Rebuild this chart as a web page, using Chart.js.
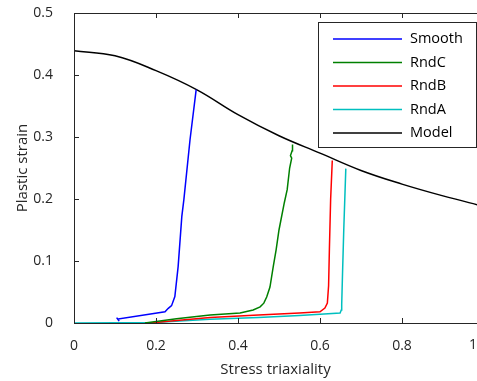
<!DOCTYPE html>
<html>
<head>
<meta charset="utf-8">
<script src="https://cdn.jsdelivr.net/npm/chart.js@4.4.1/dist/chart.umd.min.js"></script>
<style>
html, body { margin: 0; padding: 0; background: #fff; overflow: hidden; }
</style>
</head>
<body>
<canvas id="chart" width="477" height="381"></canvas>
<script>
// data
const smoothX = [0.104, 0.110, 0.107, 0.222, 0.230, 0.238, 0.246, 0.254, 0.263, 0.268, 0.283, 0.298];
const smoothY = [0.0086, 0.003, 0.0065, 0.018, 0.0237, 0.028, 0.0426, 0.091, 0.172, 0.199, 0.2956, 0.3764];

const rndCX = [0.173, 0.25, 0.332, 0.405, 0.437, 0.454, 0.463, 0.470, 0.478, 0.486, 0.493, 0.5, 0.513, 0.52, 0.526, 0.531, 0.528, 0.532, 0.533];
const rndCY = [0, 0.007, 0.013, 0.016, 0.021, 0.026, 0.032, 0.042, 0.058, 0.091, 0.118, 0.15, 0.194, 0.215, 0.25, 0.266, 0.270, 0.278, 0.288];

const rndBX = [0.185, 0.25, 0.332, 0.45, 0.55, 0.6, 0.612, 0.618, 0.621, 0.623, 0.626, 0.63];
const rndBY = [0, 0.004, 0.009, 0.013, 0.016, 0.018, 0.024, 0.032, 0.06, 0.12, 0.2, 0.262];

const rndAX = [0, 0.2, 0.332, 0.45, 0.55, 0.6, 0.649, 0.652, 0.653, 0.655, 0.658, 0.663];
const rndAY = [0, 0.001, 0.006, 0.009, 0.012, 0.014, 0.016, 0.021, 0.03, 0.08, 0.15, 0.249];

const modelX = [0, 0.1, 0.2, 0.3, 0.4, 0.5, 0.6, 0.7, 0.8, 0.9, 1.0];
const modelY = [0.439, 0.431, 0.407, 0.376, 0.336, 0.302, 0.274, 0.246, 0.224, 0.205, 0.188];

const xTickValues = [0, 0.2, 0.4, 0.6, 0.8, 1];
const yTickValues = [0, 0.1, 0.2, 0.3, 0.4, 0.5];

const fontFam = "'Open Sans', sans-serif";
const ink = "#262626";

function pts(xs, ys) {
    return xs.map((x, i) => ({ x, y: ys[i] }));
}

// box, inward ticks and legend drawn like the original plot
const frame = {
    id: "frame",
    afterDatasetsDraw(chart) {
        const { ctx, chartArea: a, scales } = chart;
        ctx.save();
        ctx.strokeStyle = ink;
        ctx.lineWidth = 1;
        ctx.beginPath();
        ctx.moveTo(a.left + 0.5, a.bottom + 0.5);
        ctx.lineTo(a.left + 0.5, a.top + 0.5);
        ctx.lineTo(a.right + 2, a.top + 0.5);
        ctx.moveTo(a.left + 0.5, a.bottom + 0.5);
        ctx.lineTo(a.right + 2, a.bottom + 0.5);
        scales.x.ticks.forEach(t => {
            const px = Math.round(scales.x.getPixelForValue(t.value)) + 0.5;
            ctx.moveTo(px, a.bottom);
            ctx.lineTo(px, a.bottom - 5);
            ctx.moveTo(px, a.top);
            ctx.lineTo(px, a.top + 5);
        });
        scales.y.ticks.forEach(t => {
            const py = Math.round(scales.y.getPixelForValue(t.value)) + 0.5;
            ctx.moveTo(a.left, py);
            ctx.lineTo(a.left + 5, py);
        });
        ctx.stroke();

        // last x label sits at the cut edge
        ctx.fillStyle = ink;
        ctx.font = "14px " + fontFam;
        ctx.textAlign = "center";
        ctx.textBaseline = "middle";
        ctx.fillText(String(xTickValues[xTickValues.length - 1]), a.right - 4, a.bottom + 22);

        // legend
        const bx = a.right - 159, by = a.top + 9, bw = 158, bh = 125;
        ctx.fillStyle = "#fff";
        ctx.fillRect(bx, by, bw, bh);
        ctx.strokeStyle = ink;
        ctx.lineWidth = 1;
        ctx.strokeRect(bx + 0.5, by + 0.5, bw, bh);
        ctx.font = "14.5px " + fontFam;
        ctx.textAlign = "left";
        chart.data.datasets.forEach((ds, i) => {
            const ly = by + 17 + i * 23.5;
            ctx.strokeStyle = ds.borderColor;
            ctx.lineWidth = 1.5;
            ctx.beginPath();
            ctx.moveTo(bx + 15, ly);
            ctx.lineTo(bx + 84, ly);
            ctx.stroke();
            ctx.fillStyle = "#000";
            ctx.fillText(ds.label, bx + 92, ly);
        });
        ctx.restore();
    }
};

const lineSet = (label, color, data, extra) => Object.assign({
    label,
    data,
    borderColor: color,
    backgroundColor: color,
    borderWidth: 1.5,
    pointRadius: 0,
    fill: false,
    tension: 0
}, extra || {});

new Chart(document.getElementById("chart"), {
    type: "line",
    data: {
        datasets: [
            lineSet("Smooth", "#0000ff", pts(smoothX, smoothY)),
            lineSet("RndC", "#008000", pts(rndCX, rndCY)),
            lineSet("RndB", "#ff0000", pts(rndBX, rndBY)),
            lineSet("RndA", "#00bfbf", pts(rndAX, rndAY)),
            lineSet("Model", "#000000", pts(modelX, modelY), { tension: 0.4 })
        ]
    },
    options: {
        responsive: false,
        animation: false,
        layout: { padding: { left: 0, right: 0, top: 13, bottom: 0 } },
        plugins: {
            legend: { display: false },
            tooltip: { enabled: false }
        },
        scales: {
            x: {
                type: "linear",
                min: 0,
                max: 0.983,
                grid: { display: false },
                border: { display: false },
                afterBuildTicks: s => { s.ticks = xTickValues.filter(v => v <= s.max).map(v => ({ value: v })); },
                afterFit: s => { s.height = 58; s.paddingLeft = 0; s.paddingRight = 0; },
                ticks: {
                    color: ink,
                    font: { family: fontFam, size: 14 },
                    padding: 7,
                    maxRotation: 0,
                    callback: v => String(v)
                },
                title: {
                    display: true,
                    text: "Stress triaxiality",
                    color: ink,
                    font: { family: fontFam, size: 15 },
                    padding: { top: 0, bottom: 2 }
                }
            },
            y: {
                type: "linear",
                min: 0,
                max: 0.5,
                grid: { display: false },
                border: { display: false },
                afterBuildTicks: s => { s.ticks = yTickValues.map(v => ({ value: v })); },
                afterFit: s => { s.width = 74; s.paddingTop = 0; s.paddingBottom = 0; },
                ticks: {
                    color: ink,
                    font: { family: fontFam, size: 14 },
                    padding: 13,
                    callback: v => String(v)
                },
                title: {
                    display: true,
                    text: "Plastic strain",
                    color: ink,
                    font: { family: fontFam, size: 15 },
                    padding: { top: 14, bottom: 14 }
                }
            }
        }
    },
    plugins: [frame]
});
</script>
</body>
</html>
